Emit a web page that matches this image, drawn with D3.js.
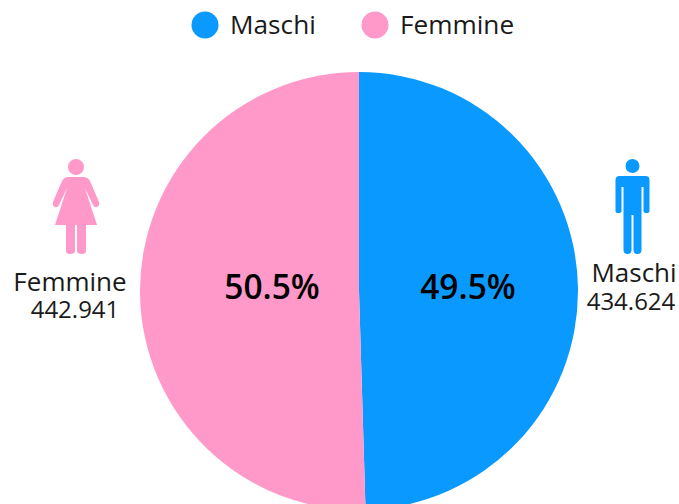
<!DOCTYPE html>
<html>
<head>
<meta charset="utf-8">
<script src="https://cdn.jsdelivr.net/npm/d3@7"></script>
<style>
  html, body { margin: 0; padding: 0; background: #fff; overflow: hidden; }
  text { font-family: "Open Sans", sans-serif; fill: #1a1a1a; }
</style>
</head>
<body>
<script>
const categories = ["Maschi", "Femmine"]
const population = [434624, 442941]
const percentLabels = ["49.5%", "50.5%"]
const valueLabels = ["434.624", "442.941"]
const colors = ["#0a99ff", "#ff99c9"]

const width = 679
const height = 504
const cx = 359
const cy = 291
const radius = 219

const svg = d3.select("body").append("svg")
  .attr("width", width)
  .attr("height", height)

const color = d3.scaleOrdinal(colors).domain(categories)

const pie = d3.pie().sort(null).value(d => d.value)
const arc = d3.arc().innerRadius(0).outerRadius(radius)
const rows = categories.map((name, i) => ({ name, value: population[i], pct: percentLabels[i] }))

const gPie = svg.append("g").attr("transform", `translate(${cx},${cy})`)

gPie.selectAll("path")
  .data(pie(rows))
  .enter().append("path")
  .attr("d", arc)
  .attr("fill", d => color(d.data.name))

// percent labels, the two sit at different distances from the centre
const labelRadius = [109, 87]
gPie.selectAll("text")
  .data(pie(rows))
  .enter().append("text")
  .attr("x", (d, i) => d3.arc().innerRadius(labelRadius[i]).outerRadius(labelRadius[i]).centroid(d)[0])
  .attr("y", -4)
  .attr("text-anchor", "middle")
  .attr("dy", "0.35em")
  .style("font-size", "33.5px")
  .style("font-weight", 600)
  .style("fill", "#000")
  .text(d => d.data.pct)

// legend
const legendX = [205, 375]
const legend = svg.append("g").selectAll("g")
  .data(categories)
  .enter().append("g")
  .attr("transform", (d, i) => `translate(${legendX[i]},25)`)

legend.append("circle")
  .attr("r", 13.5)
  .attr("fill", d => color(d))

legend.append("text")
  .attr("x", 25)
  .attr("dy", "0.36em")
  .style("font-size", "26.2px")
  .text(d => d)

// people icons, drawn around their own origin (head centre x, top of the head y)
const femalePath = "M-8,8 a8,8 0 1,1 16,0 a8,8 0 1,1 -16,0 Z " +
  "M-7,18 L7,18 Q12,18 14,22 L23,43 Q24,47 21,48 Q19,49 17,46 L9,29 L21,66 L10,66 L10,92 Q10,95 6,95 Q1,95 1,92 L1,66 L-1,66 L-1,92 Q-1,95 -6,95 Q-10,95 -10,92 L-10,66 L-21,66 L-9,29 L-17,46 Q-19,49 -21,48 Q-24,47 -23,43 L-14,22 Q-12,18 -7,18 Z"
const malePath = "M-7,7 a7,7 0 1,1 14,0 a7,7 0 1,1 -14,0 Z " +
  "M-13,17 L13,17 Q17,17 17,21 L17,52 Q17,54 14,54 Q11,54 11,52 L11,28 L9,28 L9,91 Q9,95 5,95 Q1,95 1,91 L1,56 L-1,56 L-1,91 Q-1,95 -5,95 Q-9,95 -9,91 L-9,28 L-11,28 L-11,52 Q-11,54 -14,54 Q-17,54 -17,52 L-17,21 Q-17,17 -13,17 Z"

const iconPaths = [malePath, femalePath]
const iconX = [632.5, 76]
const iconY = [159, 159]
const sideX = [634, 70]
const nameY = [282, 291]
const valueY = [310, 318]

svg.append("g").selectAll("path")
  .data(categories)
  .enter().append("path")
  .attr("transform", (d, i) => `translate(${iconX[i]},${iconY[i]})`)
  .attr("d", (d, i) => iconPaths[i])
  .attr("fill", d => color(d))

svg.append("g").selectAll("text")
  .data(categories)
  .enter().append("text")
  .attr("x", (d, i) => sideX[i])
  .attr("y", (d, i) => nameY[i])
  .attr("text-anchor", "middle")
  .style("font-size", "26px")
  .text(d => d)

svg.append("g").selectAll("text")
  .data(valueLabels)
  .enter().append("text")
  .attr("x", (d, i) => i == 0 ? 631 : 75)
  .attr("y", (d, i) => valueY[i])
  .attr("text-anchor", "middle")
  .style("font-size", "24px")
  .text(d => d)
</script>
</body>
</html>
